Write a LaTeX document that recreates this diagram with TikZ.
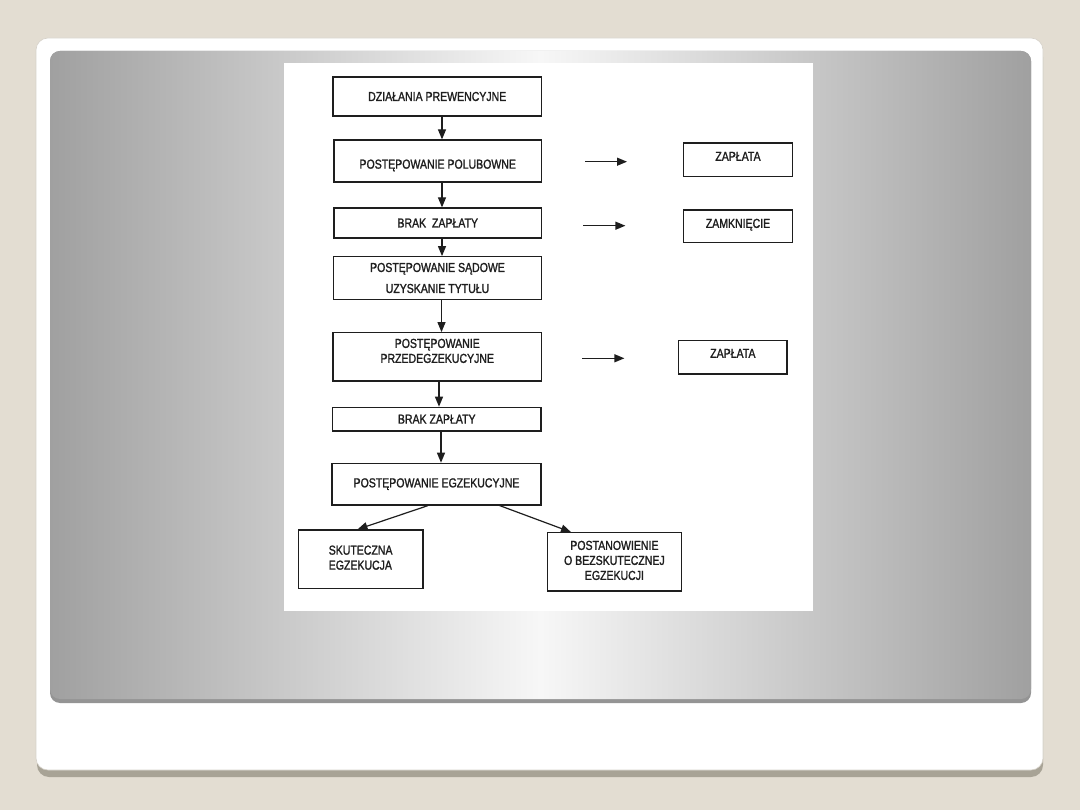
\documentclass[tikz,border=0pt]{standalone}
\usepackage{fontspec}
\setmainfont{Liberation Sans}[FakeStretch=0.81,FakeBold=1.4]
\usetikzlibrary{arrows.meta}
\definecolor{bgbeige}{HTML}{E3DDD2}
\definecolor{cardshadow}{HTML}{A8A396}
\definecolor{cardedge}{HTML}{D6D2CA}
\definecolor{panelgray}{HTML}{A0A0A0}
\definecolor{paneldark}{HTML}{949494}
\definecolor{panellight}{HTML}{F7F7F7}
\definecolor{ink}{HTML}{1E1E1E}
\newcommand{\txtup}[1]{\rule[-#1pt]{0pt}{#1pt}}
\newcommand{\txtdown}[1]{\rule{0pt}{#1pt}}
\begin{document}
\begin{tikzpicture}[x=1pt,y=-1pt,
  box/.style={draw=ink, line width=1.2pt, fill=white, inner sep=0pt, text=ink,
    font=\fontsize{13}{15}\selectfont, align=center},
  arr/.style={draw=ink, line width=1.2pt, -{Triangle[length=10pt,width=8pt]}}]
\useasboundingbox (0,0) rectangle (1080,810);
% background
\fill[bgbeige] (0,0) rectangle (1080,810);
% card
\fill[cardshadow, rounded corners=12pt] (37,45) rectangle (1043,777);
\filldraw[fill=white, draw=cardedge, line width=0.6pt, rounded corners=12pt] (36,38) rectangle (1043,770);
% gray panel
\fill[paneldark, rounded corners=10pt] (50,51) rectangle (1031,703);
\shade[rounded corners=10pt, left color=panelgray, right color=panelgray, middle color=panellight] (50,51) rectangle (1031,699);
% white diagram sheet
\fill[white] (284,63) rectangle (813,611);
% boxes
\node[box, minimum width=208.5pt, minimum height=39pt] (b1) at (437.25,96.5) {DZIAŁANIA PREWENCYJNE};
\node[box, minimum width=207.5pt, minimum height=42pt] (b2) at (437.75,161) {\txtdown{18}POSTĘPOWANIE POLUBOWNE};
\node[box, minimum width=207.5pt, minimum height=30pt] (b3) at (437.75,223) {BRAK\ \ ZAPŁATY};
\node[box, minimum width=208pt, minimum height=42.6pt] (b4) at (437.5,278) {POSTĘPOWANIE SĄDOWE\\[6pt]UZYSKANIE TYTUŁU};
\node[box, minimum width=208.5pt, minimum height=48.3pt] (b5) at (437.25,356.85) {POSTĘPOWANIE\\PRZEDEGZEKUCYJNE\txtup{12}};
\node[box, minimum width=208.5pt, minimum height=23.7pt] (b6) at (436.75,419.15) {BRAK ZAPŁATY};
\node[box, minimum width=209pt, minimum height=41.7pt] (b7) at (436.5,484.15) {POSTĘPOWANIE EGZEKUCYJNE};
\node[box, minimum width=124.7pt, minimum height=58.3pt] (b8) at (360.65,559.15) {\begin{tabular}{@{}l@{}}SKUTECZNA\\EGZEKUCJA\end{tabular}};
\node[box, minimum width=133.6pt, minimum height=58.3pt] (b9) at (614.4,561.85) {POSTANOWIENIE\\O BEZSKUTECZNEJ\\EGZEKUCJI\txtup{3}};
\node[box, minimum width=108.8pt, minimum height=33.7pt] (z1) at (738,159.85) {ZAPŁATA\txtup{7}};
\node[box, minimum width=108.8pt, minimum height=32.7pt] (z2) at (738,226.35) {ZAMKNIĘCIE\txtup{6}};
\node[box, minimum width=108.1pt, minimum height=33.3pt] (z3) at (732.85,357.35) {ZAPŁATA\txtup{8}};
% vertical connectors
\coordinate (xa) at (442,0);
\coordinate (xb) at (441.5,0);
\coordinate (xc) at (439,0);
\coordinate (xd) at (441,0);
\draw[arr] (b1.south -| xa) -- (b2.north -| xa);
\draw[arr] (b2.south -| xa) -- (b3.north -| xa);
\draw[arr] (b3.south -| xa) -- (b4.north -| xa);
\draw[arr] (b4.south -| xb) -- (b5.north -| xb);
\draw[arr] (b5.south -| xc) -- (b6.north -| xc);
\draw[arr] (b6.south -| xd) -- (b7.north -| xd);
% diagonal connectors
\coordinate (sl) at (428,0);
\coordinate (tl) at (357.5,0);
\coordinate (sr) at (499.7,0);
\coordinate (tr) at (571,0);
\draw[arr] (b7.south -| sl) -- (b8.north -| tl);
\draw[arr] (b7.south -| sr) -- (b9.north -| tr);
% free arrows
\coordinate (f1a) at (585.4,161.7);
\coordinate (f1b) at (627,161.7);
\coordinate (f2a) at (583,225.7);
\coordinate (f2b) at (625.4,225.7);
\coordinate (f3a) at (582.3,358.3);
\coordinate (f3b) at (624.4,358.3);
\draw[arr] (f1a) -- (f1b);
\draw[arr] (f2a) -- (f2b);
\draw[arr] (f3a) -- (f3b);
\end{tikzpicture}
\end{document}
